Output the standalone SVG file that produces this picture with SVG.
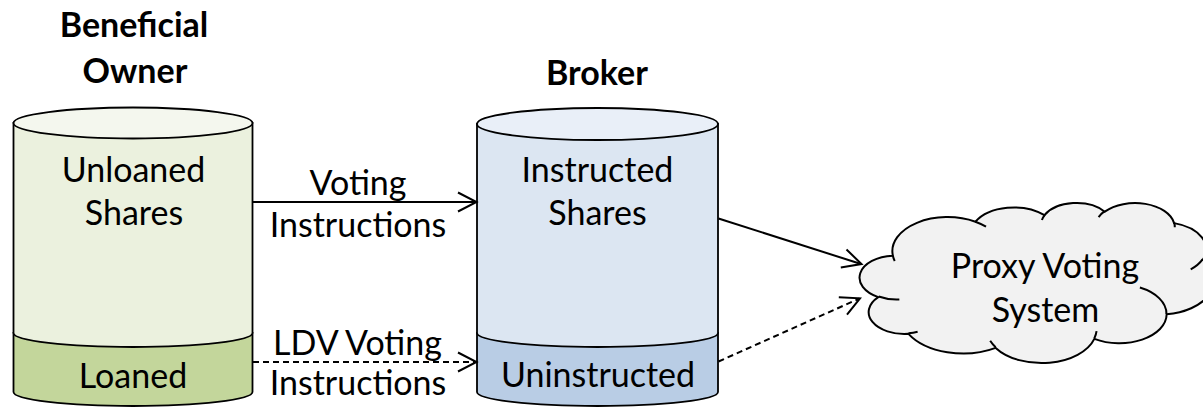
<svg xmlns="http://www.w3.org/2000/svg" width="1203" height="407" viewBox="0 0 1203 407">
  <defs>
    <style>
      .txt { font-family: Lato, "Open Sans", "Liberation Sans", sans-serif; font-size: 34px; fill: #000; text-anchor: middle; }
      .title { font-weight: bold; }
      .edge { stroke: #000; stroke-width: 1.8; }
      .line { fill: none; stroke: #000; stroke-width: 2; }
      .dash { stroke-dasharray: 6 4; }
      .head { fill: none; stroke: #000; stroke-width: 2; stroke-linejoin: miter; }
      .cloud { fill: #f2f2f2; stroke: #000; stroke-width: 2; vector-effect: non-scaling-stroke; }
      .crease { fill: none; stroke: #000; stroke-width: 2; vector-effect: non-scaling-stroke; }
    </style>
  </defs>

  <rect x="0" y="0" width="1203" height="407" fill="#fff"/>

  <!-- Beneficial owner: unloaned / loaned share stack -->
  <g id="node-owner">
    <text class="txt title" x="134" y="37">Beneficial</text>
    <text class="txt title" x="135" y="83">Owner</text>
    <path class="edge" fill="#c3d69b" d="M13.5,333 L13.5,392 A119.5,14 0 0 0 252.5,392 L252.5,333 Z"/>
    <path class="edge" fill="#ebf1de" d="M13.5,123 L13.5,333 A119.5,14 0 0 0 252.5,333 L252.5,123 Z"/>
    <ellipse class="edge" fill="#f4f7ee" cx="133" cy="123" rx="119.5" ry="15.5"/>
    <text class="txt" x="133.5" y="182">Unloaned</text>
    <text class="txt" x="134" y="225">Shares</text>
    <text class="txt" x="133" y="388">Loaned</text>
  </g>

  <!-- Broker: instructed / uninstructed share stack -->
  <g id="node-broker">
    <text class="txt title" x="597" y="85">Broker</text>
    <path class="edge" fill="#b9cde5" d="M477,333 L477,392 A120.5,14 0 0 0 718,392 L718,333 Z"/>
    <path class="edge" fill="#dce6f2" d="M477,124 L477,333 A120.5,14 0 0 0 718,333 L718,124 Z"/>
    <ellipse class="edge" fill="#e9eff8" cx="597.5" cy="124" rx="120.5" ry="16"/>
    <text class="txt" x="597.5" y="182">Instructed</text>
    <text class="txt" x="597.5" y="225">Shares</text>
    <text class="txt" x="598" y="387">Uninstructed</text>
  </g>

  <!-- Proxy voting system cloud (43200-unit shape space) -->
  <g id="node-proxy">
    <g transform="translate(861,202.5) scale(0.0081713,0.0037037)">
      <path class="cloud" d="M3900,14370 A6753,9190 0 0 1 14006,5202 A5333,7267 0 0 1 22457,3430 A4365,5945 0 0 1 29833,2476 A4857,6595 0 0 1 38318,5571 A5333,7273 0 0 1 41819,15455 A6775,9220 0 0 1 37406,30201 A5785,7867 0 0 1 28558,36811 A6752,9215 0 0 1 16483,39263 A7720,10543 0 0 1 5806,35468 A4360,5918 0 0 1 2115,25546 A4345,5945 0 0 1 3900,14370 Z"/>
      <path class="crease" d="M4693,26177 A4345,5945 0 0 1 2159,25379 M6928,34899 A4360,5918 0 0 1 5820,35281 M16478,39090 A6752,9215 0 0 1 15810,37349 M28827,34751 A6752,9215 0 0 1 28560,36660 M34129,22954 A5785,7867 0 0 1 37381,30090 M41798,15354 A5333,7273 0 0 1 40350,18030 M38324,5426 A4857,6595 0 0 1 38400,6690 M29078,3952 A4857,6595 0 0 1 29820,2339 M22141,4720 A4365,5945 0 0 1 22500,3331 M14000,5192 A6753,9190 0 0 1 15299,6539 M4127,15789 A6753,9190 0 0 1 3900,14370"/>
    </g>
    <text class="txt" x="1045" y="278">Proxy Voting</text>
    <text class="txt" x="1045.5" y="322">System</text>
  </g>

  <!-- Connectors -->
  <g id="connectors">
    <line class="line" x1="253" y1="202" x2="476" y2="202"/>
    <path class="head" d="M458,192.5 L476.5,202 L458,211.5"/>

    <line class="line dash" x1="253" y1="362" x2="476" y2="362"/>
    <path class="head" d="M458,352.5 L476.5,362 L458,371.5"/>

    <line class="line" x1="718.5" y1="218.5" x2="861" y2="264"/>
    <path class="head" d="M846.5,249.5 L861.5,264 L840.8,267.4"/>

    <line class="line dash" x1="718.5" y1="361.5" x2="859.5" y2="298.5"/>
    <path class="head" d="M838.8,297.2 L860,298.3 L847,314.6"/>
  </g>

  <!-- Connector labels -->
  <g id="connector-labels">
    <text class="txt" x="358" y="195">Voting</text>
    <text class="txt" x="358" y="237">Instructions</text>
    <text class="txt" x="357.5" y="355">LDV Voting</text>
    <text class="txt" x="358" y="395">Instructions</text>
  </g>
</svg>
